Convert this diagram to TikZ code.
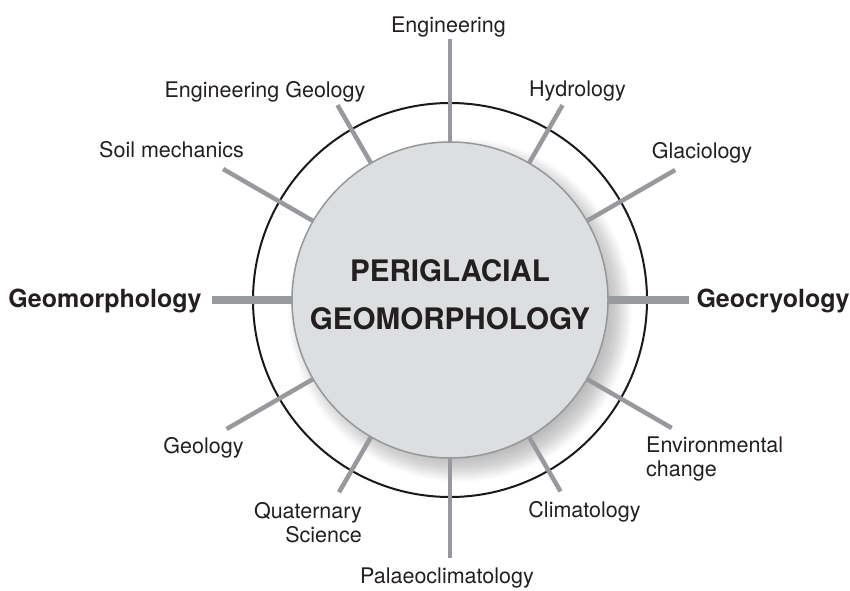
\documentclass[tikz,border=0pt]{standalone}
\usepackage{fontspec}
\setmainfont{TeX Gyre Heros}
\usetikzlibrary{calc}
\definecolor{spoke}{RGB}{152,153,156}
\definecolor{discfill}{RGB}{221,222,224}
\definecolor{discedge}{RGB}{150,151,153}
\definecolor{ink}{RGB}{35,31,32}
\tikzset{
  spokeline/.style={draw=spoke, line width=4.5pt},
  mainspoke/.style={draw=spoke, line width=8pt},
  lbl/.style={font=\fontsize{21.5}{23.5}\selectfont, text=ink, inner sep=0pt},
  boldlbl/.style={font=\fontsize{25}{28}\selectfont\bfseries, text=ink, inner sep=0pt},
  titletext/.style={font=\fontsize{29.6}{48}\selectfont\bfseries, text=ink, inner sep=0pt, align=center},
  disc/.style={circle, fill=discfill, draw=discedge, line width=1.5pt, minimum size=316pt, inner sep=0pt, outer sep=0pt},
  ring/.style={draw=black!90, line width=2pt}
}
\begin{document}
\begin{tikzpicture}[x=1pt,y=1pt]
\useasboundingbox (0,0) rectangle (850,590);
\coordinate (C) at (450,290);
\coordinate (S) at (460,280);
% soft shadow inside the outer ring
\begin{scope}
  \clip (C) circle[radius=197pt];
  \foreach \i in {0,...,27} \fill[black, opacity=0.012] (S) circle[radius=145pt+\i pt];
\end{scope}
% outer ring
\draw[ring] (C) circle[radius=197pt];
% central disc
\node[disc] (core) at (C) {};
% free ends of the spokes
\coordinate (engE)  at ([shift={(90:261pt)}]C);
\coordinate (hydE)  at ([shift={(60:225pt)}]C);
\coordinate (glaE)  at ([shift={(30:260pt)}]C);
\coordinate (geocE) at ([shift={(0:239pt)}]C);
\coordinate (envE)  at ([shift={(-30:256pt)}]C);
\coordinate (cliE)  at ([shift={(-60:221pt)}]C);
\coordinate (palE)  at ([shift={(-90:258pt)}]C);
\coordinate (quaE)  at ([shift={(-120:222pt)}]C);
\coordinate (geolE) at ([shift={(-150:258pt)}]C);
\coordinate (geomE) at ([shift={(180:238pt)}]C);
\coordinate (soilE) at ([shift={(150:262pt)}]C);
\coordinate (egE)   at ([shift={(120:225pt)}]C);
% spokes
\draw[spokeline] (core.90)   -- (engE);
\draw[spokeline] (core.60)   -- (hydE);
\draw[spokeline] (core.30)   -- (glaE);
\draw[mainspoke] (core.0)    -- (geocE);
\draw[spokeline] (core.-30)  -- (envE);
\draw[spokeline] (core.-60)  -- (cliE);
\draw[spokeline] (core.-90)  -- (palE);
\draw[spokeline] (core.-120) -- (quaE);
\draw[spokeline] (core.-150) -- (geolE);
\draw[mainspoke] (core.180)  -- (geomE);
\draw[spokeline] (core.150)  -- (soilE);
\draw[spokeline] (core.120)  -- (egE);
% title (base anchor = baseline of the last line)
\node[titletext, anchor=base] (title) at (450,261) {PERIGLACIAL\\GEOMORPHOLOGY};
% labels
\node[lbl, anchor=base] (eng)  at (448.5,557) {Engineering};
\node[lbl, anchor=base] (eg)   at (265,492) {Engineering Geology};
\node[lbl, anchor=base] (hyd)  at (577.5,493) {Hydrology};
\node[lbl, anchor=base] (soil) at (171.5,432) {Soil mechanics};
\node[lbl, anchor=base] (gla)  at (702,431) {Glaciology};
\node[boldlbl, anchor=base] (geom) at (105,283) {Geomorphology};
\node[boldlbl, anchor=base] (geoc) at (773,283) {Geocryology};
\node[lbl, anchor=base] (geol) at (203.5,137) {Geology};
\node[lbl, anchor=base west, align=left] (env) at (646,114) {Environmental\\change};
\node[lbl, anchor=base east, align=right] (qua) at (362,48) {Quaternary\\Science};
\node[lbl, anchor=base] (cli)  at (584.5,73) {Climatology};
\node[lbl, anchor=base] (pal)  at (447,7) {Palaeoclimatology};
\end{tikzpicture}
\end{document}
